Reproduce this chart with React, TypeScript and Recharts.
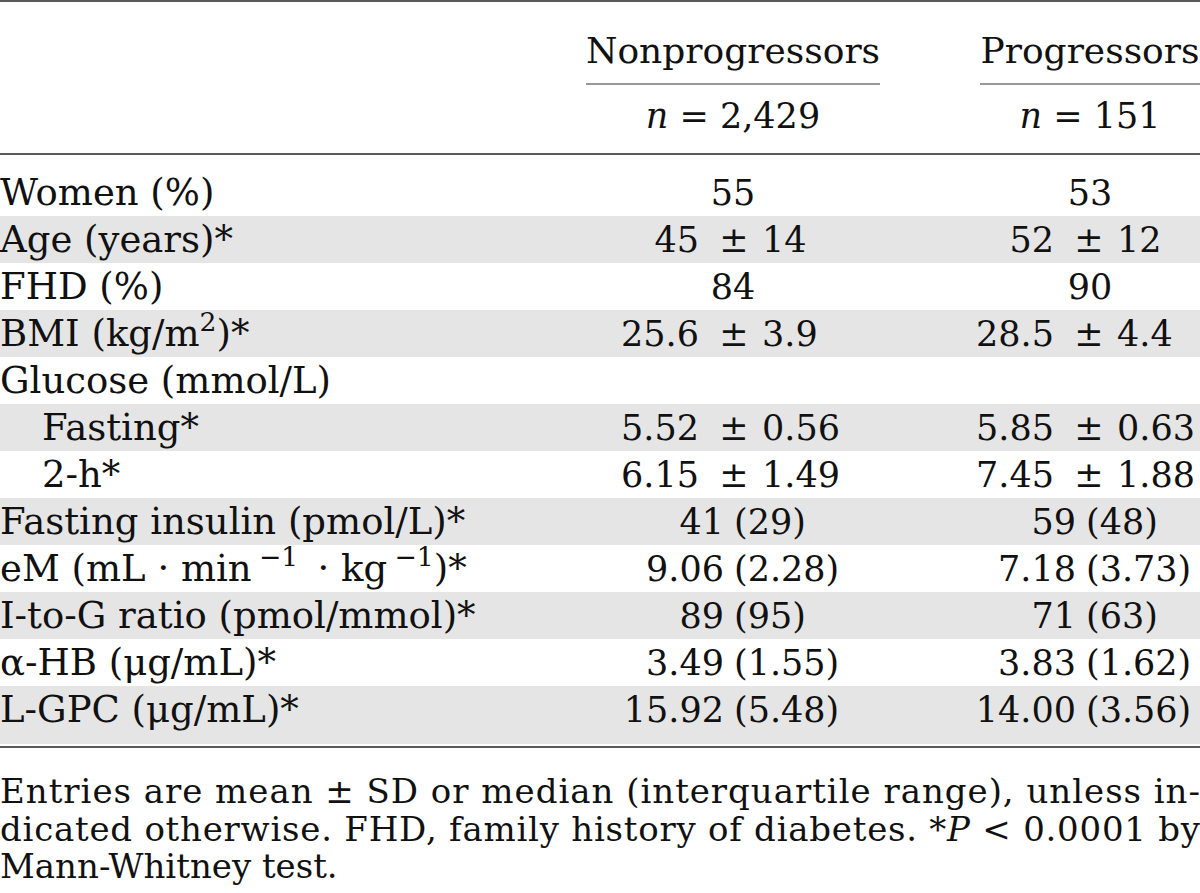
import React from 'react'
import { BarChart, Bar, XAxis, YAxis, LabelList, Customized } from 'recharts'

// table rows
const rowLabels = [
  'Women (%)',
  'Age (years)*',
  'FHD (%)',
  'BMI (kg/m^2^)*',
  'Glucose (mmol/L)',
  'Fasting*',
  '2-h*',
  'Fasting insulin (pmol/L)*',
  'eM (mL · min\u2009^−1^\u2009 · kg\u2009^−1^)*',
  'I-to-G ratio (pmol/mmol)*',
  'α-HB (μg/mL)*',
  'L-GPC (μg/mL)*',
]
const indented = [0, 0, 0, 0, 0, 1, 1, 0, 0, 0, 0, 0]
const nonprogressors = [
  '55', '45 ± 14', '84', '25.6 ± 3.9', '', '5.52 ± 0.56', '6.15 ± 1.49',
  '41 (29)', '9.06 (2.28)', '89 (95)', '3.49 (1.55)', '15.92 (5.48)',
]
const progressors = [
  '53', '52 ± 12', '90', '28.5 ± 4.4', '', '5.85 ± 0.63', '7.45 ± 1.88',
  '59 (48)', '7.18 (3.73)', '71 (63)', '3.83 (1.62)', '14.00 (3.56)',
]
const groupNames = ['Nonprogressors', 'Progressors']
const groupSizes = ['~n~ = 2,429', '~n~ = 151']
const footnote = [
  'Entries are mean ± SD or median (interquartile range), unless in-',
  'dicated otherwise. FHD, family history of diabetes. *~P~ < 0.0001 by',
  'Mann-Whitney test.',
]

const W = 1200
const H = 893
const FONT = '"DejaVu Serif", serif'
const FS = 35 // values
const LABEL_FS = 37
const HEAD_FS = 36
const FOOT_FS = 34
const INK = '#111'
const SHADE = '#e5e5e5'
const PM = [734, 1089] // where the ± sits in each column
const PAREN = [734, 1086] // where the "(" starts in each column
const CENTERS = [733, 1090]

const rows = rowLabels.map((label, i) => ({
  label,
  non: nonprogressors[i],
  prog: progressors[i],
  band: W,
  shaded: i % 2 === 1,
  last: i === rowLabels.length - 1,
}))

// tiny markup: ^sup^ and ~italic~
function rich(s: string, fs: number) {
  const parts = s.split(/(\^[^^]*\^|~[^~]*~)/).filter((p) => p !== '')
  const out: React.ReactNode[] = []
  let raised = false
  parts.forEach((p, k) => {
    if (p.startsWith('^')) {
      out.push(
        <tspan key={k} dy={-0.42 * fs} fontSize={fs * 0.72}>
          {p.slice(1, -1)}
        </tspan>
      )
      raised = true
    } else {
      const italic = p.startsWith('~')
      out.push(
        <tspan key={k} dy={raised ? 0.42 * fs : 0} fontStyle={italic ? 'italic' : undefined}>
          {italic ? p.slice(1, -1) : p}
        </tspan>
      )
      raised = false
    }
  })
  return out
}

const BandShape = (props: any) => {
  const { x, y, width, height, payload } = props
  if (!payload.shaded) return <g />
  const h = payload.last ? height + 11 : height
  return <rect x={x} y={y} width={width} height={h} fill={SHADE} />
}

const LabelCell = (props: any) => {
  const { x, y, height, value, index } = props
  const base = y + height / 2 + LABEL_FS * 0.35
  return (
    <text x={x + (indented[index] ? 42 : 0)} y={base} fontSize={LABEL_FS} fontFamily={FONT} fill={INK}>
      {rich(String(value), LABEL_FS)}
    </text>
  )
}

const valueCell = (col: number) => (props: any) => {
  const { x, y, height, value } = props
  const v = String(value ?? '')
  if (!v) return <g />
  const base = y + height / 2 + FS * 0.36
  const common = { fontSize: FS, fontFamily: FONT, fill: INK, y: base }
  if (v.includes(' ± ')) {
    const [a, b] = v.split(' ± ')
    const sx = x + PM[col]
    return (
      <g>
        <text {...common} x={sx - 35} textAnchor="end">{a}</text>
        <text {...common} x={sx} textAnchor="middle">±</text>
        <text {...common} x={sx + 28} textAnchor="start">{b}</text>
      </g>
    )
  }
  if (v.includes(' (')) {
    const i = v.indexOf(' (')
    const sx = x + PAREN[col]
    return (
      <g>
        <text {...common} x={sx - 10} textAnchor="end">{v.slice(0, i)}</text>
        <text {...common} x={sx} textAnchor="start">{v.slice(i + 1)}</text>
      </g>
    )
  }
  return (
    <text {...common} x={x + CENTERS[col]} textAnchor="middle">{v}</text>
  )
}

const Frame = () => (
  <g fontFamily={FONT} fill={INK}>
    <line x1={0} x2={W} y1={1} y2={1} stroke="#222" strokeWidth={1.5} />
    {groupNames.map((g, i) => (
      <text key={g} x={CENTERS[i]} y={63} fontSize={HEAD_FS} textAnchor="middle">{g}</text>
    ))}
    <line x1={586} x2={880} y1={84} y2={84} stroke="#333" strokeWidth={1.2} />
    <line x1={980} x2={W} y1={84} y2={84} stroke="#333" strokeWidth={1.2} />
    {groupSizes.map((g, i) => (
      <text key={g} x={CENTERS[i]} y={128} fontSize={FS} textAnchor="middle">{rich(g, FS)}</text>
    ))}
    <line x1={0} x2={W} y1={154} y2={154} stroke="#222" strokeWidth={1.5} />
    <line x1={0} x2={W} y1={747} y2={747} stroke="#222" strokeWidth={1.5} />
    {footnote.map((line, i) => (
      <text
        key={i}
        x={0}
        y={803 + i * 37.5}
        fontSize={FOOT_FS}
        {...(i < 2 ? { textLength: W, lengthAdjust: 'spacing' } : {})}
      >
        {rich(line, FOOT_FS)}
      </text>
    ))}
  </g>
)

export default function App() {
  return (
    <div style={{ position: 'absolute', left: 0, top: 0, background: '#fff' }}>
      <BarChart
        width={W}
        height={H}
        data={rows}
        layout="vertical"
        margin={{ top: 169, right: 0, bottom: H - 733, left: 0 }}
        barCategoryGap={0}
        barGap={0}
      >
        <XAxis type="number" domain={[0, W]} hide />
        <YAxis type="category" dataKey="label" hide />
        <Bar dataKey="band" shape={BandShape} isAnimationActive={false}>
          <LabelList dataKey="label" content={LabelCell} />
          <LabelList dataKey="non" content={valueCell(0)} />
          <LabelList dataKey="prog" content={valueCell(1)} />
        </Bar>
        <Customized component={Frame} />
      </BarChart>
    </div>
  )
}
